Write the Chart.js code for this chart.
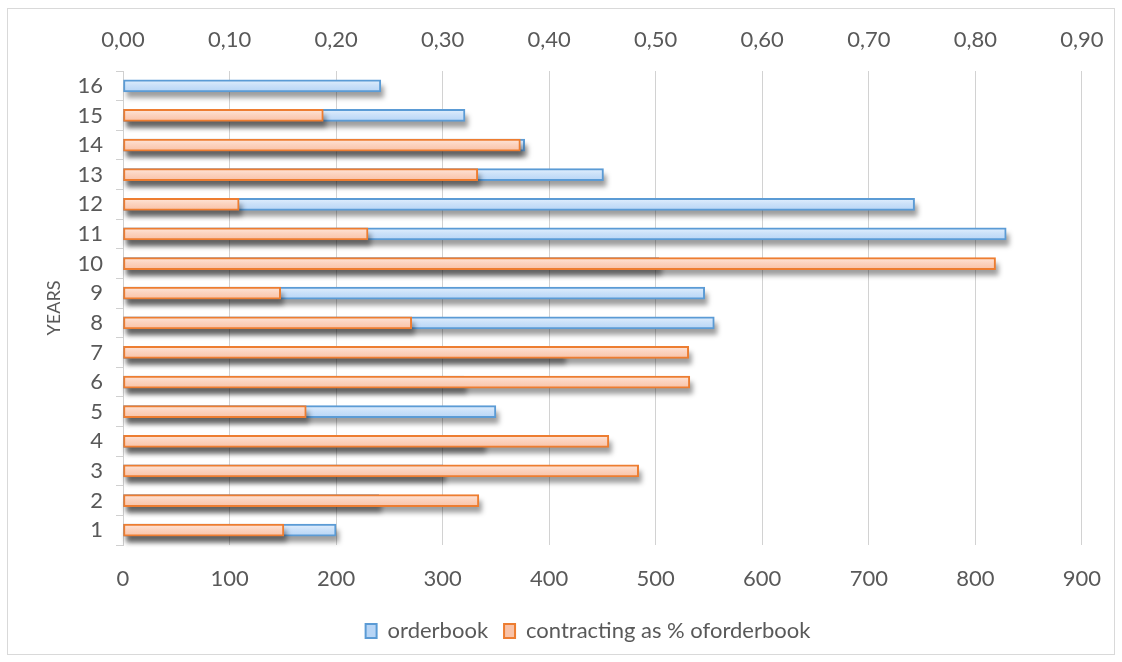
<!DOCTYPE html>
<html>
<head>
<meta charset="utf-8">
<script src="https://cdn.jsdelivr.net/npm/chart.js@4/dist/chart.umd.min.js"></script>
<style>
  html, body { margin: 0; padding: 0; background: #ffffff; }
  #wrap { position: relative; width: 1122px; height: 662px; }
</style>
</head>
<body>
<div id="wrap"><canvas id="chart" width="1122" height="662"></canvas></div>
<script>
// Years shown on the category axis
const years = ['1', '2', '3', '4', '5', '6', '7', '8', '9', '10', '11', '12', '13', '14', '15', '16'];

// Orderbook size per year (bottom axis)
const orderbook = [200, 240, 300, 338, 350, 320, 413, 555, 546, 503, 829, 743, 451, 377, 321, 242];

// Contracting as a share of the orderbook (top axis)
const contracting = [0.151, 0.334, 0.484, 0.456, 0.172, 0.532, 0.531, 0.271, 0.148, 0.819, 0.230, 0.109, 0.333, 0.373, 0.188, null];

// Axis ranges and tick steps
const orderbookTicks = { min: 0, max: 900, step: 100 };
const shareTicks = { min: 0, max: 0.9, step: 0.1 };

const FONT = 'Lato';
const TEXT = '#595959';
const GRID = '#d2d2d2';

// Vertical gradient fill for each bar
function barFill(top, mid, bottom) {
  return (ctx) => {
    const chart = ctx.chart;
    if (ctx.type !== 'data' || !chart.scales || !chart.scales.y) return mid;
    const yc = chart.scales.y.getPixelForValue(ctx.dataIndex);
    if (!isFinite(yc)) return mid;
    const g = chart.ctx.createLinearGradient(0, yc - 6, 0, yc + 6);
    g.addColorStop(0, top);
    g.addColorStop(0.45, mid);
    g.addColorStop(1, bottom);
    return g;
  };
}

// Soft drop shadow under every bar of a dataset
const barShadow = {
  id: 'barShadow',
  beforeDatasetDraw(chart, args) {
    const ctx = chart.ctx;
    ctx.save();
    ctx.filter = 'blur(2.5px)';
    ctx.fillStyle = 'rgba(0,0,0,0.38)';
    args.meta.data.forEach((el) => {
      const p = el.getProps(['x', 'y', 'base', 'height'], true);
      if (p.x == null || !isFinite(p.x) || p.x === p.base) return;
      const left = Math.min(p.base, p.x);
      const w = Math.abs(p.x - p.base);
      ctx.fillRect(left + 3, p.y - p.height / 2 + 6, w, p.height);
    });
    ctx.restore();
  }
};

// Legend sits a little right of the canvas centre, under the plot
const legendShift = {
  id: 'legendShift',
  afterLayout(chart) {
    const lg = chart.legend;
    if (!lg) return;
    lg.left += 43;
    lg.right += 43;
  }
};

// White background and thin outer frame
const frame = {
  id: 'frame',
  beforeDraw(chart) {
    const ctx = chart.ctx;
    ctx.save();
    ctx.fillStyle = '#ffffff';
    ctx.fillRect(0, 0, chart.width, chart.height);
    ctx.strokeStyle = '#d9d9d9';
    ctx.lineWidth = 1;
    ctx.strokeRect(7.5, 8.5, 1107, 646);
    ctx.restore();
  }
};

new Chart(document.getElementById('chart'), {
  type: 'bar',
  data: {
    labels: years,
    datasets: [
      {
        label: 'orderbook',
        data: orderbook,
        xAxisID: 'x',
        order: 2,
        grouped: false,
        barThickness: 12,
        borderWidth: 2,
        borderColor: '#5b9bd5',
        backgroundColor: barFill('#e2effd', '#cbe1f9', '#b7d5f6'),
        borderSkipped: false
      },
      {
        label: 'contracting as % oforderbook',
        data: contracting,
        xAxisID: 'x2',
        order: 1,
        grouped: false,
        barThickness: 12,
        borderWidth: 2,
        borderColor: '#ed7d31',
        backgroundColor: barFill('#fee6da', '#fcd3bf', '#f9c2a7'),
        borderSkipped: false
      }
    ]
  },
  options: {
    indexAxis: 'y',
    responsive: false,
    animation: false,
    events: [],
    layout: { padding: { left: 7, right: 39, top: 0, bottom: 10 } },
    scales: {
      x: {
        position: 'bottom',
        min: orderbookTicks.min,
        max: orderbookTicks.max,
        ticks: {
          stepSize: orderbookTicks.step,
          color: TEXT,
          font: { family: FONT, size: 22 },
          padding: 21,
          maxRotation: 0
        },
        grid: { color: GRID, lineWidth: 1, drawTicks: false },
        border: { display: false },
        afterFit(scale) { scale.height = 59; }
      },
      x2: {
        position: 'top',
        min: shareTicks.min,
        max: shareTicks.max,
        ticks: {
          stepSize: shareTicks.step,
          color: TEXT,
          font: { family: FONT, size: 22 },
          padding: 18,
          maxRotation: 0,
          callback: (v) => Number(v).toFixed(2).replace('.', ',')
        },
        grid: { drawOnChartArea: false, drawTicks: false },
        border: { display: false },
        afterFit(scale) { scale.height = 71; }
      },
      y: {
        reverse: true,
        ticks: {
          color: TEXT,
          font: { family: FONT, size: 22 },
          padding: 13,
          autoSkip: false
        },
        grid: { drawOnChartArea: false, drawTicks: true, tickLength: 7, color: '#d0d0d0' },
        border: { display: true, color: '#d0d0d0' },
        title: {
          display: true,
          text: 'YEARS',
          color: TEXT,
          font: { family: FONT, size: 18 },
          padding: { top: 36, bottom: 0 }
        },
        afterFit(scale) { scale.width = 116; }
      }
    },
    plugins: {
      legend: {
        position: 'bottom',
        labels: {
          color: TEXT,
          font: { family: FONT, size: 22 },
          boxWidth: 11,
          boxHeight: 14,
          padding: 16,
          sort: (a, b) => a.datasetIndex - b.datasetIndex
        }
      },
      tooltip: { enabled: false }
    }
  },
  plugins: [frame, barShadow, legendShift]
});
</script>
</body>
</html>
